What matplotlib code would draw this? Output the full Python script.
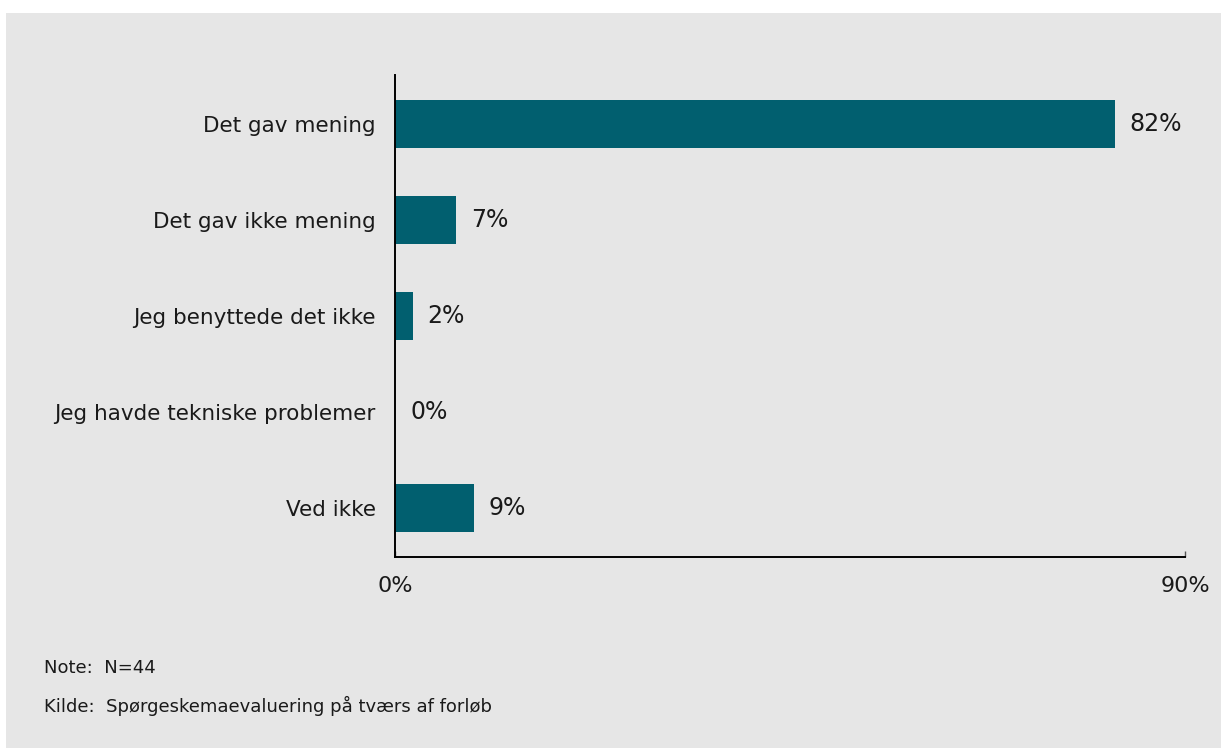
import matplotlib
matplotlib.use("Agg")
import matplotlib.pyplot as plt
from matplotlib.patches import Rectangle

# data
categories = ["Det gav mening", "Det gav ikke mening", "Jeg benyttede det ikke",
              "Jeg havde tekniske problemer", "Ved ikke"]
values = [82, 7, 2, 0, 9]
x_ticks = [0, 90]
x_tick_labels = ["0%", "90%"]
note_text = "Note:  N=44"
source_text = "Kilde:  Spørgeskemaevaluering på tværs af forløb"

BAR = "#015f6f"
BG = "#e6e6e6"
TXT = "#1a1a1a"

plt.rcParams.update({"font.family": ["DejaVu Sans"], "text.color": TXT})

W, H = 1221, 748
fig = plt.figure(figsize=(W / 100, H / 100), dpi=100, facecolor="white")
# grey panel, white margin at top and left
fig.patches.append(Rectangle((6 / W, 0), 1 - 6 / W, 1 - 13 / H,
                             transform=fig.transFigure, facecolor=BG,
                             edgecolor="none", zorder=-10))

ax = fig.add_axes([395 / W, 1 - 557 / H, (1185 - 395) / W, (557 - 75) / H])
ax.set_facecolor("none")
ax.set_zorder(1)

y = list(range(len(categories)))
ax.barh(y, values, height=0.5, color=BAR)
for yi, v in zip(y, values):
    ax.annotate(f"{v}%", (v, yi), xytext=(10.8, 0), textcoords="offset points",
                va="center", ha="left", fontsize=17, color=TXT)

ax.set_xlim(0, 90)
ax.set_ylim(len(categories) - 0.49, -0.51)
ax.set_yticks(y)
ax.set_yticklabels(categories, fontsize=15.5, color=TXT)
ax.tick_params(axis="y", length=0, pad=14)
ax.set_xticks(x_ticks)
ax.set_xticklabels(x_tick_labels, fontsize=16, color=TXT)
ax.tick_params(axis="x", direction="in", length=4, width=1, pad=14, color="#555555")

for side in ["top", "right"]:
    ax.spines[side].set_visible(False)
for side in ["left", "bottom"]:
    ax.spines[side].set_color("black")
    ax.spines[side].set_linewidth(1.4)

fig.text(44 / W, 1 - 668 / H, note_text, fontsize=13, va="center", ha="left", color=TXT)
fig.text(44 / W, 1 - 706 / H, source_text, fontsize=13, va="center", ha="left", color=TXT)

fig.savefig("out.png", dpi=100, facecolor="white")
